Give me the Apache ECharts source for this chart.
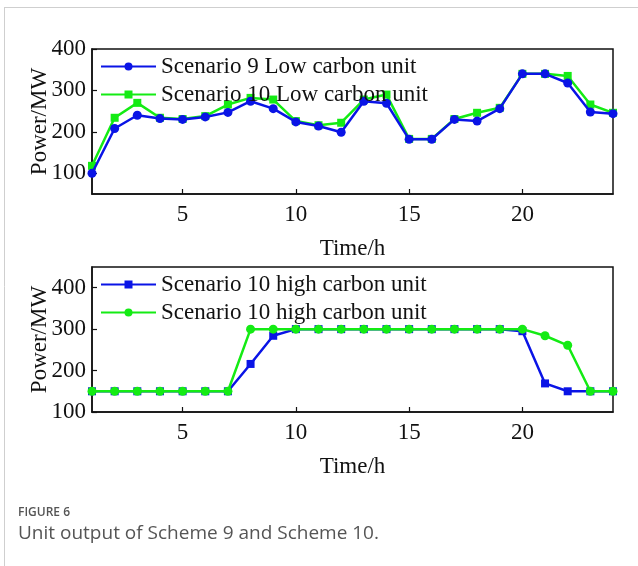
<!DOCTYPE html>
<html>
<head>
<meta charset="utf-8">
<script src="https://cdn.jsdelivr.net/npm/echarts@6/dist/echarts.min.js"></script>
<style>
  html, body { margin: 0; padding: 0; background: #fff; }
  #main { width: 638px; height: 566px; }
</style>
</head>
<body>
<div id="main"></div>
<script>
// ---- data ----
const hours = [1,2,3,4,5,6,7,8,9,10,11,12,13,14,15,16,17,18,19,20,21,22,23,24];
const xTicks = [5, 10, 15, 20];
const topYTicks = [100, 200, 300, 400];
const bottomYTicks = [100, 200, 300, 400];

const s9Low  = [100,208,240,232,230,236,247,274,256,224,214,199,274,269,182,182,230,226,256,340,340,318,248,244];
const s10Low = [118,234,270,234,231,238,266,282,278,226,216,222,278,290,183,183,231,246,258,340,340,335,266,246];
const s10HighA = [150,150,150,150,150,150,150,216,284,300,300,300,300,300,300,300,300,300,300,295,169,150,150,150];
const s10HighB = [150,150,150,150,150,150,150,300,300,300,300,300,300,300,300,300,300,300,300,300,284,261,150,150];

const names = {
  s9Low: 'Scenario 9 Low carbon unit',
  s10Low: 'Scenario 10 Low carbon unit',
  hiA: 'Scenario 10 high carbon unit',
  hiB: 'Scenario 10 high carbon unit '
};

const BLUE = '#0a14e6';
const GREEN = '#14eb14';
const serif = '"Liberation Serif", "Times New Roman", serif';
const FS = 23;

function pairs(ys) { return hours.map((h, i) => [h, ys[i]]); }

function xAxisCfg(gridIndex) {
  return {
    type: 'value', gridIndex, min: 1, max: 24,
    name: 'Time/h', nameLocation: 'middle', nameGap: 43, nameMoveOverlap: false,
    nameTextStyle: { fontFamily: serif, fontSize: FS, color: '#111' },
    axisLine: { show: true, lineStyle: { color: '#111', width: 1.5 } },
    axisTick: { show: true, inside: true, length: 5, customValues: xTicks, lineStyle: { color: '#111', width: 1.2 } },
    axisLabel: { customValues: xTicks, fontFamily: serif, fontSize: FS, color: '#111', margin: 9 },
    splitLine: { show: false }
  };
}
function yAxisCfg(gridIndex, min, max, ticks) {
  return {
    type: 'value', gridIndex, min, max,
    name: 'Power/MW', nameLocation: 'middle', nameGap: 41, nameMoveOverlap: false,
    nameTextStyle: { fontFamily: serif, fontSize: FS, color: '#111' },
    axisLine: { show: true, lineStyle: { color: '#111', width: 1.5 } },
    axisTick: { show: true, inside: true, length: 5, customValues: ticks, lineStyle: { color: '#111', width: 1.2 } },
    axisLabel: { customValues: ticks, fontFamily: serif, fontSize: FS, color: '#111', margin: 6 },
    splitLine: { show: false }
  };
}
function lineSeries(name, ys, color, symbol, size, xi, z) {
  return {
    name, type: 'line', xAxisIndex: xi, yAxisIndex: xi, data: pairs(ys),
    symbol, symbolSize: size, showSymbol: true, z,
    lineStyle: { color, width: 2.5 },
    itemStyle: { color },
    emphasis: { disabled: true },
    animation: false
  };
}

const chart = echarts.init(document.getElementById('main'), null, { renderer: 'canvas' });
chart.setOption({
  backgroundColor: '#fff',
  animation: false,
  grid: [
    { left: 92, top: 49, width: 521, height: 145, show: true, borderColor: '#111', borderWidth: 1.5, backgroundColor: 'transparent' },
    { left: 92, top: 267, width: 521, height: 145, show: true, borderColor: '#111', borderWidth: 1.5, backgroundColor: 'transparent' }
  ],
  xAxis: [xAxisCfg(0), xAxisCfg(1)],
  yAxis: [yAxisCfg(0, 50, 400, topYTicks), yAxisCfg(1, 100, 450, bottomYTicks)],
  legend: [
    {
      data: [names.s9Low, names.s10Low], orient: 'vertical', left: 100, top: 55, padding: 0,
      itemWidth: 55, itemHeight: 10, itemGap: 5,
      textStyle: { fontFamily: serif, fontSize: FS, color: '#111' },
      selectedMode: false
    },
    {
      data: [names.hiA, names.hiB], orient: 'vertical', left: 100, top: 273, padding: 0,
      itemWidth: 55, itemHeight: 10, itemGap: 5,
      textStyle: { fontFamily: serif, fontSize: FS, color: '#111' },
      formatter: n => n.trim(),
      selectedMode: false
    }
  ],
  series: [
    lineSeries(names.s10Low, s10Low, GREEN, 'rect', 8, 0, 2),
    lineSeries(names.s9Low, s9Low, BLUE, 'circle', 9, 0, 3),
    lineSeries(names.hiA, s10HighA, BLUE, 'rect', 8, 1, 2),
    lineSeries(names.hiB, s10HighB, GREEN, 'circle', 9, 1, 3)
  ],
  graphic: [
    { type: 'line', shape: { x1: 4.5, y1: 7, x2: 4.5, y2: 566 }, style: { stroke: '#cfcfcf', lineWidth: 1 } },
    { type: 'line', shape: { x1: 4, y1: 7.5, x2: 638, y2: 7.5 }, style: { stroke: '#cfcfcf', lineWidth: 1 } },
    { type: 'text', left: 18, top: 507, style: { text: 'FIGURE 6', font: '600 12px "Open Sans", "Noto Sans", sans-serif', fill: '#555' } },
    { type: 'text', left: 18, top: 524, style: { text: 'Unit output of Scheme 9 and Scheme 10.', font: '19px "Open Sans", "Noto Sans", sans-serif', fill: '#555' } }
  ]
});
</script>
</body>
</html>
